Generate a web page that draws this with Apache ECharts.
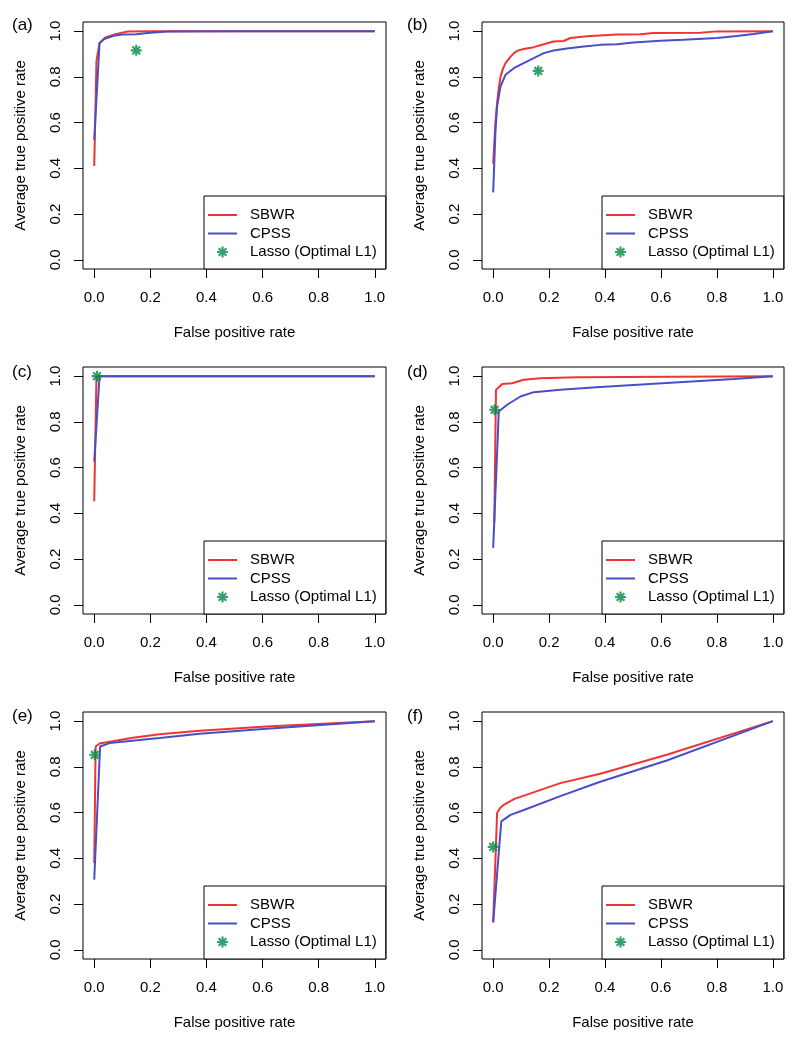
<!DOCTYPE html>
<html>
<head>
<meta charset="utf-8">
<script src="https://cdn.jsdelivr.net/npm/echarts@6/dist/echarts.min.js"></script>
<style>
html,body{margin:0;padding:0;background:#fff;}
#chart{width:800px;height:1047px;}
</style>
</head>
<body>
<div id="chart"></div>
<script>
// ---- data ----
const panelLabels = ['(a)', '(b)', '(c)', '(d)', '(e)', '(f)'];
const seriesNames = ['SBWR', 'CPSS', 'Lasso (Optimal L1)'];
const tickValues = [0, 0.2, 0.4, 0.6, 0.8, 1.0];
const xTitle = 'False positive rate';
const yTitle = 'Average true positive rate';

const a_SBWR = [[0,0.41],[0.008,0.87],[0.019,0.948],[0.04,0.972],[0.075,0.987],[0.12,0.998],[0.2,1],[1,1]];
const a_CPSS = [[0,0.525],[0.019,0.948],[0.035,0.965],[0.07,0.98],[0.1,0.985],[0.15,0.986],[0.19,0.992],[0.26,0.998],[0.5,1],[1,1]];
const a_Lasso = [[0.15,0.916]];

const b_SBWR = [[0,0.42],[0.008,0.6],[0.014,0.686],[0.02,0.75],[0.026,0.80],[0.035,0.835],[0.044,0.86],[0.06,0.885],[0.074,0.904],[0.09,0.916],[0.109,0.922],[0.145,0.93],[0.181,0.943],[0.216,0.955],[0.252,0.957],[0.276,0.97],[0.336,0.978],[0.443,0.985],[0.526,0.986],[0.574,0.992],[0.74,0.993],[0.8,0.999],[1,1]];
const b_CPSS = [[0,0.295],[0.008,0.56],[0.014,0.671],[0.026,0.758],[0.044,0.809],[0.074,0.838],[0.109,0.86],[0.145,0.882],[0.181,0.904],[0.216,0.915],[0.264,0.924],[0.324,0.933],[0.383,0.94],[0.443,0.943],[0.502,0.95],[0.598,0.958],[0.681,0.962],[0.8,0.97],[0.871,0.979],[0.931,0.988],[1,1]];
const b_Lasso = [[0.161,0.826]];

const c_SBWR = [[0,0.453],[0.008,1],[1,1]];
const c_CPSS = [[0,0.627],[0.019,1],[1,1]];
const c_Lasso = [[0.01,1]];

const d_SBWR = [[0.004,0.36],[0.01,0.94],[0.014,0.947],[0.032,0.966],[0.068,0.969],[0.109,0.984],[0.169,0.991],[0.3,0.995],[1,1]];
const d_CPSS = [[0,0.249],[0.02,0.845],[0.05,0.875],[0.0975,0.911],[0.145,0.93],[0.24,0.94],[0.383,0.953],[0.62,0.97],[0.86,0.987],[1,1]];
const d_Lasso = [[0.005,0.853]];

const e_SBWR = [[0,0.38],[0.005,0.889],[0.019,0.902],[0.138,0.927],[0.233,0.943],[0.376,0.958],[0.614,0.977],[1,1]];
const e_CPSS = [[0,0.307],[0.021,0.889],[0.055,0.904],[0.233,0.926],[0.376,0.945],[0.614,0.967],[1,1]];
const e_Lasso = [[0.002,0.853]];

const f_SBWR = [[0,0.12],[0.014,0.598],[0.025,0.62],[0.038,0.634],[0.074,0.659],[0.24,0.729],[0.383,0.77],[0.621,0.853],[1,1]];
const f_CPSS = [[0,0.12],[0.029,0.562],[0.062,0.59],[0.098,0.606],[0.24,0.672],[0.383,0.735],[0.621,0.828],[1,1]];
const f_Lasso = [[0,0.45]];

const sbwrData = [a_SBWR, b_SBWR, c_SBWR, d_SBWR, e_SBWR, f_SBWR];
const cpssData = [a_CPSS, b_CPSS, c_CPSS, d_CPSS, e_CPSS, f_CPSS];
const lassoData = [a_Lasso, b_Lasso, c_Lasso, d_Lasso, e_Lasso, f_Lasso];

// ---- styling / layout ----
const FONT = 'Liberation Sans, Arial, Helvetica, sans-serif';
const RED = '#f03434';
const BLUE = '#4a4ec6';
const GREEN = '#008b45';
const colLeft = [83, 482];
const colWidth = [303, 302];
const rowTop = [22, 367, 712];
const gridH = 247;
const labelX = [12, 407];
const labelY = [27, 374, 718];
// asterisk (R pch = 8) as filled bars
const STAR = 'path://M4,0 L6,0 L6,10 L4,10 Z M0,4 L10,4 L10,6 L0,6 Z M2.2,0.8 L9.2,7.8 L7.8,9.2 L0.8,2.2 Z M7.8,0.8 L9.2,2.2 L2.2,9.2 L0.8,7.8 Z';
const LINE_ICON = 'path://M0,0 L29,0 L29,2 L0,2 Z';

const grids = [], xAxes = [], yAxes = [], series = [], legends = [], graphics = [];
const txt = {color:'#000', fontFamily: FONT, fontSize: 15};

for (let i = 0; i < 6; i++) {
  const col = i % 2, row = Math.floor(i / 2);
  const left = colLeft[col], top = rowTop[row], w = colWidth[col];
  grids.push({left: left, top: top, width: w, height: gridH, show: true,
    borderColor: '#000', borderWidth: 1, backgroundColor: 'transparent'});
  const common = {
    gridIndex: i, type: 'value', min: -0.04, max: 1.04,
    splitLine: {show: false},
    axisLine: {show: false, onZero: false},
    axisTick: {show: true, length: 9, customValues: tickValues, lineStyle: {color: '#000', width: 1}},
    nameLocation: 'middle', nameTextStyle: Object.assign({}, txt)
  };
  xAxes.push(Object.assign({}, common, {
    axisLabel: Object.assign({customValues: tickValues, margin: 21, formatter: v => v.toFixed(1)}, txt),
    name: xTitle, nameGap: 56
  }));
  yAxes.push(Object.assign({}, common, {
    axisLabel: Object.assign({customValues: tickValues, margin: 20, rotate: 90, formatter: v => v.toFixed(1)}, txt),
    name: yTitle, nameGap: 55
  }));
  series.push({name: seriesNames[0], type: 'line', xAxisIndex: i, yAxisIndex: i, data: sbwrData[i],
    symbol: 'none', lineStyle: {color: RED, width: 2}, itemStyle: {color: RED}, animation: false});
  series.push({name: seriesNames[1], type: 'line', xAxisIndex: i, yAxisIndex: i, data: cpssData[i],
    symbol: 'none', lineStyle: {color: BLUE, width: 2}, itemStyle: {color: BLUE}, animation: false});
  series.push({name: seriesNames[2], type: 'scatter', xAxisIndex: i, yAxisIndex: i, data: lassoData[i],
    symbol: STAR, symbolSize: 11, itemStyle: {color: GREEN}, z: 5, animation: false});
  legends.push({
    orient: 'vertical', left: left + w - 182, top: top + gridH - 73,
    data: [
      {name: seriesNames[0], icon: LINE_ICON},
      {name: seriesNames[1], icon: LINE_ICON},
      {name: seriesNames[2], icon: STAR}
    ],
    itemWidth: 29, itemHeight: 11, itemGap: 0.5,
    padding: [10, 9, 8, 4], borderColor: '#000', borderWidth: 1, borderRadius: 0,
    backgroundColor: '#fff', selectedMode: false,
    textStyle: {color: '#000', fontFamily: FONT, fontSize: 15, lineHeight: 18, padding: [0, 0, 0, 8]}
  });
  graphics.push({type: 'text', left: labelX[col], top: labelY[row] - 10,
    style: {text: panelLabels[i], fill: '#000', font: '17px ' + FONT}});
}

const chart = echarts.init(document.getElementById('chart'), null, {renderer: 'canvas'});
chart.setOption({
  backgroundColor: '#fff',
  animation: false,
  grid: grids, xAxis: xAxes, yAxis: yAxes, series: series, legend: legends, graphic: graphics
});
</script>
</body>
</html>
